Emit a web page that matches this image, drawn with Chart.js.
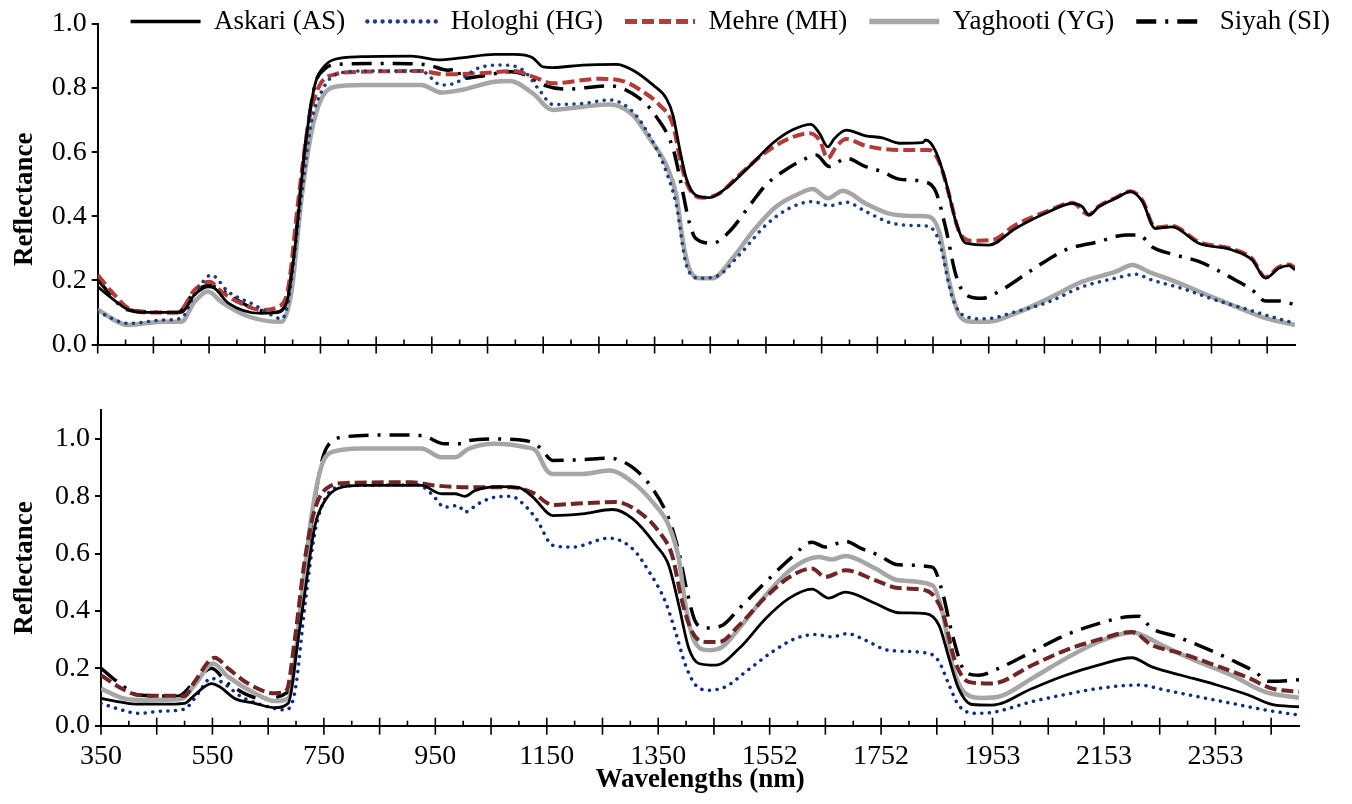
<!DOCTYPE html>
<html>
<head>
<meta charset="utf-8">
<script src="https://cdn.jsdelivr.net/npm/chart.js@4.4.1/dist/chart.umd.min.js"></script>
<style>
  html, body { margin: 0; padding: 0; background: #fff; }
  body { width: 1352px; height: 804px; position: relative; overflow: hidden; }
  #top_chart { position: absolute; left: 0; top: -14px; }
  #bottom_chart { position: absolute; left: 0; top: 400px; }
</style>
</head>
<body>
<canvas id="top_chart" width="1352" height="414"></canvas>
<canvas id="bottom_chart" width="1352" height="404"></canvas>
<script>
const seriesNames = ['Askari (AS)', 'Hologhi (HG)', 'Mehre (MH)', 'Yaghooti (YG)', 'Siyah (SI)'];
const xTickLabels = ['350', '550', '750', '950', '1150', '1350', '1552', '1752', '1953', '2153', '2353'];
const yTickValues = [0, 0.2, 0.4, 0.6, 0.8, 1.0];

// top panel: [wavelength (nm), reflectance]
const topAS = [[350,0.18],[375,0.145],[405,0.108],[435,0.10],[500,0.10],[524,0.155],[548,0.18],[560,0.175],[584,0.13],[644,0.097],[668,0.10],[689,0.13],[704,0.30],[722,0.61],[740,0.81],[758,0.87],[776,0.89],[823,0.898],[913,0.90],[961,0.888],[1003,0.894],[1063,0.905],[1098,0.905],[1131,0.895],[1150,0.866],[1167,0.864],[1221,0.872],[1281,0.874],[1311,0.856],[1347,0.81],[1371,0.768],[1383,0.716],[1395,0.61],[1407,0.518],[1424,0.466],[1448,0.458],[1478,0.487],[1520,0.555],[1562,0.628],[1598,0.67],[1631,0.687],[1646,0.659],[1661,0.617],[1673,0.643],[1694,0.669],[1729,0.651],[1759,0.645],[1789,0.628],[1831,0.63],[1837,0.638],[1855,0.602],[1873,0.508],[1891,0.383],[1909,0.316],[1950,0.31],[1998,0.362],[2058,0.414],[2100,0.44],[2118,0.43],[2130,0.404],[2148,0.43],[2178,0.456],[2205,0.477],[2226,0.446],[2249,0.362],[2279,0.367],[2327,0.316],[2387,0.295],[2423,0.264],[2447,0.207],[2471,0.238],[2489,0.246],[2500,0.233]];
const topHG = [[350,0.102],[405,0.066],[465,0.076],[500,0.082],[524,0.155],[554,0.217],[584,0.165],[632,0.123],[662,0.092],[680,0.08],[692,0.133],[716,0.466],[734,0.695],[752,0.789],[776,0.841],[823,0.853],[931,0.853],[967,0.81],[991,0.815],[1033,0.862],[1075,0.872],[1114,0.856],[1143,0.794],[1167,0.749],[1221,0.752],[1269,0.763],[1311,0.726],[1347,0.632],[1371,0.539],[1389,0.435],[1407,0.248],[1430,0.207],[1460,0.212],[1502,0.279],[1550,0.373],[1592,0.425],[1634,0.446],[1664,0.433],[1694,0.444],[1729,0.415],[1777,0.378],[1825,0.371],[1843,0.368],[1861,0.321],[1885,0.144],[1909,0.087],[1944,0.08],[1998,0.102],[2058,0.133],[2118,0.18],[2178,0.207],[2214,0.219],[2243,0.201],[2297,0.175],[2357,0.139],[2417,0.108],[2447,0.092],[2500,0.066]];
const topMH = [[350,0.217],[375,0.165],[405,0.113],[435,0.10],[494,0.10],[524,0.17],[551,0.196],[572,0.165],[602,0.133],[644,0.108],[674,0.118],[692,0.175],[710,0.446],[728,0.685],[746,0.80],[776,0.843],[823,0.851],[931,0.853],[973,0.843],[1033,0.846],[1098,0.853],[1131,0.836],[1167,0.815],[1251,0.829],[1293,0.822],[1329,0.789],[1359,0.747],[1383,0.685],[1398,0.56],[1412,0.487],[1436,0.458],[1466,0.471],[1502,0.529],[1550,0.60],[1592,0.643],[1628,0.659],[1646,0.638],[1661,0.581],[1676,0.617],[1694,0.641],[1729,0.62],[1789,0.607],[1843,0.607],[1861,0.57],[1879,0.466],[1897,0.352],[1921,0.324],[1956,0.326],[1998,0.373],[2058,0.418],[2100,0.442],[2130,0.405],[2148,0.432],[2178,0.458],[2205,0.478],[2226,0.45],[2249,0.365],[2279,0.37],[2327,0.32],[2387,0.298],[2423,0.268],[2447,0.21],[2471,0.242],[2489,0.25],[2500,0.24]];
const topYG = [[350,0.108],[405,0.061],[465,0.071],[500,0.071],[524,0.133],[548,0.165],[572,0.133],[614,0.092],[656,0.073],[680,0.071],[698,0.165],[716,0.456],[734,0.664],[752,0.768],[776,0.804],[823,0.81],[931,0.81],[967,0.786],[1003,0.794],[1063,0.82],[1090,0.822],[1131,0.784],[1167,0.732],[1221,0.742],[1269,0.749],[1311,0.716],[1341,0.643],[1371,0.56],[1389,0.466],[1401,0.321],[1412,0.238],[1430,0.207],[1454,0.207],[1490,0.269],[1526,0.352],[1568,0.43],[1610,0.471],[1634,0.485],[1661,0.456],[1688,0.48],[1729,0.44],[1777,0.406],[1825,0.401],[1843,0.399],[1861,0.352],[1879,0.196],[1897,0.092],[1921,0.071],[1950,0.071],[1998,0.097],[2058,0.144],[2118,0.196],[2178,0.227],[2208,0.248],[2237,0.227],[2285,0.196],[2357,0.144],[2417,0.102],[2447,0.082],[2500,0.061]];
const topSI = [[350,0.201],[405,0.108],[494,0.10],[524,0.165],[551,0.184],[572,0.17],[620,0.12],[668,0.10],[689,0.13],[704,0.31],[722,0.61],[740,0.81],[758,0.86],[776,0.874],[883,0.877],[943,0.872],[979,0.856],[998,0.86],[1000,0.83],[1033,0.836],[1092,0.851],[1120,0.84],[1150,0.81],[1191,0.797],[1269,0.807],[1323,0.768],[1353,0.711],[1383,0.612],[1398,0.498],[1412,0.383],[1424,0.331],[1454,0.316],[1484,0.352],[1526,0.446],[1550,0.498],[1580,0.539],[1622,0.581],[1640,0.591],[1664,0.555],[1694,0.581],[1729,0.555],[1759,0.539],[1789,0.516],[1834,0.508],[1855,0.477],[1873,0.362],[1891,0.217],[1909,0.155],[1938,0.144],[1968,0.165],[2028,0.233],[2088,0.295],[2148,0.321],[2196,0.342],[2220,0.342],[2243,0.305],[2279,0.282],[2327,0.259],[2387,0.207],[2423,0.17],[2447,0.136],[2471,0.136],[2500,0.124]];

// bottom panel
const botAS = [[350,0.095],[375,0.086],[411,0.075],[459,0.075],[500,0.078],[518,0.107],[548,0.147],[563,0.136],[590,0.095],[626,0.078],[662,0.063],[686,0.078],[704,0.304],[716,0.466],[734,0.698],[752,0.785],[776,0.828],[817,0.838],[925,0.838],[961,0.809],[985,0.809],[1003,0.80],[1021,0.82],[1065,0.834],[1100,0.83],[1125,0.797],[1161,0.733],[1214,0.739],[1268,0.754],[1304,0.722],[1346,0.629],[1369,0.559],[1387,0.42],[1405,0.269],[1423,0.217],[1453,0.211],[1495,0.269],[1543,0.374],[1584,0.443],[1626,0.476],[1656,0.445],[1686,0.466],[1740,0.426],[1781,0.394],[1830,0.391],[1854,0.35],[1872,0.234],[1889,0.13],[1913,0.074],[1949,0.072],[2021,0.13],[2081,0.176],[2140,0.211],[2200,0.237],[2236,0.205],[2289,0.176],[2349,0.144],[2409,0.107],[2451,0.074],[2500,0.066]];
const botHG = [[350,0.078],[387,0.055],[417,0.043],[459,0.051],[500,0.058],[518,0.095],[548,0.165],[566,0.153],[602,0.101],[650,0.066],[680,0.055],[698,0.118],[716,0.42],[734,0.675],[752,0.791],[776,0.832],[817,0.838],[919,0.84],[943,0.809],[967,0.762],[991,0.768],[1003,0.745],[1027,0.774],[1057,0.797],[1087,0.80],[1101,0.785],[1131,0.722],[1161,0.629],[1196,0.623],[1262,0.654],[1304,0.617],[1334,0.536],[1363,0.432],[1381,0.327],[1399,0.211],[1417,0.142],[1441,0.124],[1471,0.136],[1507,0.188],[1555,0.258],[1596,0.304],[1632,0.318],[1662,0.31],[1689,0.321],[1722,0.298],[1763,0.263],[1836,0.252],[1854,0.223],[1872,0.142],[1889,0.072],[1919,0.043],[1949,0.046],[2021,0.084],[2081,0.109],[2140,0.13],[2212,0.142],[2260,0.124],[2319,0.101],[2379,0.078],[2439,0.055],[2500,0.037]];
const botMH = [[350,0.176],[387,0.13],[417,0.107],[500,0.104],[518,0.153],[554,0.237],[578,0.20],[614,0.147],[662,0.113],[683,0.124],[698,0.304],[716,0.582],[734,0.756],[758,0.832],[794,0.847],[907,0.849],[949,0.838],[997,0.832],[1087,0.832],[1125,0.812],[1161,0.77],[1214,0.776],[1274,0.78],[1316,0.745],[1352,0.675],[1375,0.594],[1393,0.432],[1411,0.327],[1435,0.292],[1459,0.292],[1495,0.35],[1543,0.449],[1590,0.524],[1626,0.548],[1650,0.519],[1686,0.542],[1740,0.507],[1781,0.48],[1830,0.472],[1860,0.397],[1883,0.223],[1907,0.153],[1949,0.147],[2021,0.211],[2081,0.263],[2140,0.30],[2200,0.327],[2236,0.281],[2289,0.252],[2349,0.211],[2409,0.167],[2451,0.13],[2500,0.118]];
const botYG = [[350,0.13],[387,0.097],[429,0.089],[494,0.093],[518,0.142],[551,0.217],[578,0.171],[626,0.113],[662,0.086],[686,0.095],[710,0.443],[728,0.733],[746,0.907],[764,0.954],[817,0.967],[925,0.967],[961,0.936],[985,0.936],[1009,0.965],[1057,0.983],[1113,0.971],[1130,0.96],[1150,0.89],[1161,0.878],[1214,0.878],[1262,0.89],[1304,0.849],[1340,0.78],[1369,0.698],[1387,0.582],[1399,0.42],[1414,0.298],[1441,0.263],[1465,0.275],[1495,0.339],[1543,0.455],[1590,0.548],[1638,0.588],[1662,0.58],[1686,0.592],[1740,0.548],[1781,0.507],[1842,0.49],[1860,0.397],[1878,0.211],[1901,0.113],[1931,0.097],[1961,0.101],[2021,0.165],[2081,0.234],[2140,0.292],[2200,0.325],[2212,0.321],[2260,0.275],[2319,0.223],[2379,0.176],[2439,0.118],[2500,0.097]];
const botSI = [[350,0.20],[387,0.142],[417,0.107],[488,0.103],[518,0.153],[548,0.20],[578,0.147],[638,0.095],[686,0.118],[710,0.42],[728,0.71],[746,0.919],[758,0.979],[794,1.009],[865,1.014],[925,1.012],[967,0.983],[997,0.983],[1009,0.994],[1057,1.0],[1113,0.994],[1137,0.971],[1161,0.925],[1214,0.928],[1262,0.933],[1304,0.901],[1340,0.826],[1369,0.722],[1387,0.606],[1402,0.466],[1417,0.362],[1435,0.341],[1465,0.35],[1495,0.408],[1543,0.501],[1590,0.588],[1626,0.64],[1650,0.623],[1686,0.643],[1716,0.617],[1746,0.594],[1781,0.561],[1842,0.553],[1860,0.466],[1878,0.316],[1901,0.188],[1925,0.176],[1961,0.20],[2021,0.258],[2081,0.316],[2140,0.356],[2188,0.379],[2212,0.382],[2236,0.339],[2277,0.313],[2319,0.281],[2379,0.229],[2421,0.188],[2445,0.155],[2463,0.155],[2500,0.16]];

Chart.defaults.font.family = "'Liberation Serif', 'Times New Roman', serif";
Chart.defaults.color = '#000';

// x tick positions every 50 nm, labels only every 200
const xTickValues = [];
for (let v = 350; v < 2500; v += 50) xTickValues.push(v);

function toXY(pairs) {
  return pairs.map(p => ({ x: p[0], y: p[1] }));
}

function makeDatasets(series, mhColor, hgColor) {
  return [
    { label: seriesNames[0], data: toXY(series[0]), borderColor: '#000000', borderWidth: 2.8 },
    { label: seriesNames[1], data: toXY(series[1]), borderColor: hgColor, borderWidth: 3.5, borderDash: [0.1, 7.5], borderCapStyle: 'round' },
    { label: seriesNames[2], data: toXY(series[2]), borderColor: mhColor, borderWidth: 4, borderDash: [12, 5] },
    { label: seriesNames[3], data: toXY(series[3]), borderColor: '#a6a6a6', borderWidth: 4.5 },
    { label: seriesNames[4], data: toXY(series[4]), borderColor: '#000000', borderWidth: 3.5, borderDash: [20, 9, 3, 9] }
  ];
}

// legend lines take the dash pattern of their dataset
function legendLabels(chart) {
  const items = Chart.defaults.plugins.legend.labels.generateLabels(chart);
  items.forEach(item => {
    const ds = chart.data.datasets[item.datasetIndex];
    item.lineDash = ds.borderDash || [];
    item.lineCap = ds.borderCapStyle || 'butt';
    item.lineWidth = ds.borderWidth + 0.8;
    item.strokeStyle = ds.borderColor;
    item.fillStyle = ds.borderColor;
  });
  return items;
}

// major ticks cross the axis, minor ticks point inward
const xTickMarks = {
  id: 'xTickMarks',
  afterDraw(chart) {
    const sx = chart.scales.x;
    const ctx = chart.ctx;
    const y0 = chart.chartArea.bottom;
    ctx.save();
    ctx.strokeStyle = '#000';
    ctx.lineWidth = 1.6;
    sx.ticks.forEach(t => {
      const px = sx.getPixelForValue(t.value);
      const major = (t.value - 350) % 100 === 0;
      ctx.beginPath();
      ctx.moveTo(px, major ? y0 - 8 : y0 - 5);
      ctx.lineTo(px, major ? y0 + 9 : y0);
      ctx.stroke();
    });
    ctx.restore();
  }
};

// legend overlaps the top of the plot like in the figure, so its box is
// shorter than its text and must not clip it
const legendHeightFix = {
  id: 'legendHeightFix',
  afterInit(chart, args, opts) {
    const legend = chart.legend;
    if (!legend || opts.height == null) return;
    const fit = legend.fit.bind(legend);
    legend.fit = function () {
      fit();
      this.height = opts.height;
    };
    legend.draw = function () {
      if (this.options.display) this._draw();
    };
  }
};

// the upper "Reflectance" title sits a little below the axis middle
const yTitleShift = {
  id: 'yTitleShift',
  afterUpdate(chart, args, opts) {
    const sy = chart.scales.y;
    if (!opts.dy || sy._titleShifted) return;
    const drawTitle = sy.drawTitle.bind(sy);
    sy.drawTitle = function () {
      this.ctx.save();
      this.ctx.translate(0, opts.dy);
      drawTitle();
      this.ctx.restore();
    };
    sy._titleShifted = true;
  }
};

function xScale(showLabels, height, padRight) {
  return {
    type: 'linear',
    min: 350,
    max: 2500,
    afterBuildTicks: s => { s.ticks = xTickValues.map(v => ({ value: v })); },
    grid: { display: false, drawTicks: false },
    border: { display: true, color: '#000', width: 2 },
    ticks: {
      display: showLabels,
      autoSkip: false,
      maxRotation: 0,
      padding: 14,
      font: { size: 28 },
      callback: v => (v - 350) % 200 === 0 ? xTickLabels[(v - 350) / 200] : ''
    },
    title: {
      display: showLabels,
      text: 'Wavelengths (nm)',
      font: { size: 27, weight: 'bold' },
      padding: { top: 0, bottom: 8 }
    },
    afterFit: s => { s.height = height; s.paddingRight = padRight; s.paddingLeft = 0; }
  };
}

function yScale(max, width) {
  return {
    min: 0,
    max: max,
    afterBuildTicks: s => { s.ticks = yTickValues.map(v => ({ value: v })); },
    ticks: { padding: 5, font: { size: 28 }, callback: v => v.toFixed(1) },
    grid: { drawOnChartArea: false, drawTicks: true, tickLength: 6, color: '#000', lineWidth: 2 },
    border: { color: '#000', width: 2 },
    title: {
      display: true,
      text: 'Reflectance',
      font: { size: 27, weight: 'bold' },
      padding: { top: 9, bottom: 0 }
    },
    afterFit: s => { s.width = width; s.paddingTop = 0; s.paddingBottom = 0; }
  };
}

const commonOptions = {
  responsive: false,
  animation: false,
  events: [],
  elements: {
    point: { radius: 0 },
    line: { cubicInterpolationMode: 'monotone', fill: false }
  }
};

new Chart(document.getElementById('top_chart'), {
  type: 'line',
  data: { datasets: makeDatasets([topAS, topHG, topMH, topYG, topSI], '#b33c3a', '#1d3d7c') },
  options: {
    ...commonOptions,
    layout: { padding: 0 },
    scales: { x: xScale(false, 55.5, 57), y: yScale(1.0, 97.7) },
    plugins: {
      tooltip: { enabled: false },
      legendHeightFix: { height: 38 },
      yTitleShift: { dy: 15 },
      legend: {
        display: true,
        position: 'top',
        align: 'end',
        labels: {
          usePointStyle: true,
          pointStyle: 'line',
          pointStyleWidth: 70,
          padding: 22,
          font: { size: 27 },
          color: '#000',
          generateLabels: legendLabels
        }
      }
    }
  },
  plugins: [xTickMarks, legendHeightFix, yTitleShift]
});

new Chart(document.getElementById('bottom_chart'), {
  type: 'line',
  data: { datasets: makeDatasets([botAS, botHG, botMH, botYG, botSI], '#6e2626', '#0f2b86') },
  options: {
    ...commonOptions,
    layout: { padding: { top: 10.3, left: 0, right: 0, bottom: 0 } },
    scales: { x: xScale(true, 78.3, 53), y: yScale(1.1, 101) },
    plugins: {
      tooltip: { enabled: false },
      legend: { display: false }
    }
  },
  plugins: [xTickMarks]
});
</script>
</body>
</html>
